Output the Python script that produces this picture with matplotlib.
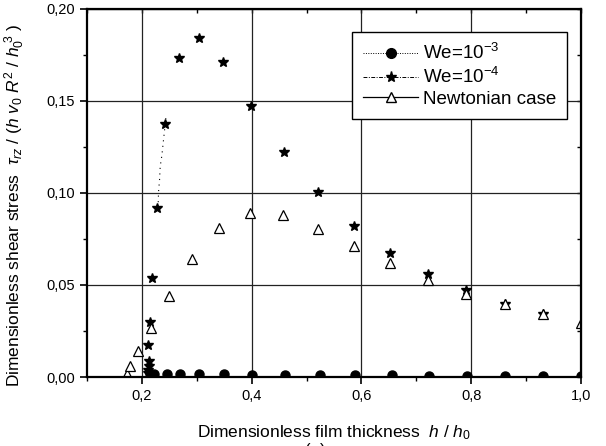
import matplotlib
matplotlib.use("Agg")
import matplotlib.pyplot as plt
from matplotlib.lines import Line2D
from matplotlib.ticker import MultipleLocator, FuncFormatter

plt.rcParams["font.family"] = ["Liberation Sans", "DejaVu Sans"]
plt.rcParams["mathtext.fontset"] = "custom"
plt.rcParams["mathtext.rm"] = "Liberation Sans"
plt.rcParams["mathtext.it"] = "Liberation Sans:italic"

# We = 1e-3 (filled circles, nearly zero everywhere)
we3_x = [0.2224, 0.2455, 0.2691, 0.3042, 0.3491, 0.4013, 0.4600, 0.5236,
         0.5873, 0.6558, 0.7224, 0.7922, 0.8618, 0.9315, 1.0]
we3_y = [0.0015, 0.0015, 0.0015, 0.0015, 0.0015, 0.0012, 0.0010, 0.0010,
         0.0010, 0.0010, 0.0005, 0.0005, 0.0005, 0.0005, 0.0005]

# dotted trace of the We = 1e-3 curve near h/h0 = 0.23
we3_trace_x = [0.2280, 0.2297, 0.2303, 0.2322, 0.2333, 0.2364, 0.2388, 0.2436, 0.2450]
we3_trace_y = [0.0920, 0.0947, 0.1007, 0.1074, 0.1143, 0.1205, 0.1273, 0.1406, 0.1420]

# We = 1e-4 (stars)
we4_x = [0.2115, 0.2120, 0.2125, 0.2130, 0.2115, 0.2140, 0.2176, 0.2267,
         0.2424, 0.2673, 0.3031, 0.3473, 0.3994, 0.4587, 0.5206, 0.5860,
         0.6527, 0.7206, 0.7904, 0.8618, 0.9315]
we4_y = [0.0020, 0.0040, 0.0060, 0.0085, 0.0174, 0.0301, 0.0536, 0.0917,
         0.1373, 0.1732, 0.1841, 0.1714, 0.1473, 0.1224, 0.1004, 0.0821,
         0.0676, 0.0560, 0.0473, 0.0395, 0.0341]

# Newtonian case (open triangles)
newt_x = [0.1727, 0.1787, 0.1922, 0.2164, 0.2491, 0.2915, 0.3406, 0.3964,
          0.4569, 0.5206, 0.5860, 0.6527, 0.7206, 0.7904, 0.8618, 0.9315, 1.0]
newt_y = [0.0015, 0.0060, 0.0143, 0.0264, 0.0440, 0.0641, 0.0808, 0.0893,
          0.0880, 0.0806, 0.0714, 0.0621, 0.0527, 0.0451, 0.0395, 0.0341, 0.0292]

fig = plt.figure(figsize=(6.06, 4.46), dpi=100)
ax = fig.add_axes([0.1436, 0.1547, 0.8152, 0.8253])

ax.plot(we3_trace_x, we3_trace_y, color="black", lw=0.8, linestyle=(0, (1, 4)))
ax.plot(we3_x, we3_y, "o", color="black", ms=6.5, linestyle="none")
ax.plot(we4_x, we4_y, "*", color="black", ms=7.5, linestyle="none")
ax.plot(newt_x, newt_y, "^", mfc="white", mec="black", mew=0.9, ms=6.5,
        linestyle="none")

ax.set_xlim(0.1, 1.0)
ax.set_ylim(0.0, 0.20)
ax.xaxis.set_major_locator(MultipleLocator(0.2))
ax.xaxis.set_minor_locator(MultipleLocator(0.1))
ax.yaxis.set_major_locator(MultipleLocator(0.05))
ax.yaxis.set_minor_locator(MultipleLocator(0.025))
ax.xaxis.set_major_formatter(FuncFormatter(lambda v, p: f"{v:.1f}".replace(".", ",")))
ax.yaxis.set_major_formatter(FuncFormatter(lambda v, p: f"{v:.2f}".replace(".", ",")))

ax.grid(True, which="major", color="#222222", lw=0.9)
for s in ax.spines.values():
    s.set_linewidth(1.6)

ax.tick_params(which="both", direction="out", top=False, right=False, labelsize=10.5)
ax.tick_params(which="major", length=5, width=1.2)
ax.tick_params(which="minor", length=3, width=1.0)
sec_x = ax.secondary_xaxis("top")
sec_x.xaxis.set_major_locator(MultipleLocator(0.2))
sec_x.xaxis.set_minor_locator(MultipleLocator(0.1))
sec_x.tick_params(which="both", direction="in", labeltop=False, length=3, width=1.0)
sec_y = ax.secondary_yaxis("right")
sec_y.yaxis.set_major_locator(MultipleLocator(0.05))
sec_y.yaxis.set_minor_locator(MultipleLocator(0.025))
sec_y.tick_params(which="both", direction="in", labelright=False, length=3, width=1.0)

ax.set_xlabel("Dimensionless film thickness  $h$ / $h_0$", fontsize=12.5)
ax.xaxis.set_label_coords(0.5, -0.125)
ax.set_ylabel(r"Dimensionless shear stress  $\tau_{rz}$ / ($h$ $v_0$ $R^2$ / $h_0^{\ 3}$ )",
              fontsize=12.5)
ax.yaxis.set_label_coords(-0.121, 0.467)

handles = [
    Line2D([], [], color="black", lw=0.7, linestyle=(0, (1, 1.5)), marker="o", ms=7),
    Line2D([], [], color="black", lw=0.7, linestyle=(0, (4, 1.5, 1, 1.5)), marker="*", ms=8),
    Line2D([], [], color="black", lw=0.9, marker="^", mfc="white", mec="black", ms=7),
]
labels = ["We=10$^{-3}$", "We=10$^{-4}$", "Newtonian case"]
leg = ax.legend(handles, labels, loc="upper right", bbox_to_anchor=(0.9717, 0.9375),
                fontsize=13.5, handlelength=2.9, handletextpad=0.25,
                fancybox=False, edgecolor="black", framealpha=1.0,
                borderpad=0.6, labelspacing=0.2, borderaxespad=0.0)
leg.get_frame().set_linewidth(1.0)

fig.text(0.52, 0.0067, "(a)", fontsize=12, ha="center", va="top")

fig.savefig("out.png", dpi=100)
